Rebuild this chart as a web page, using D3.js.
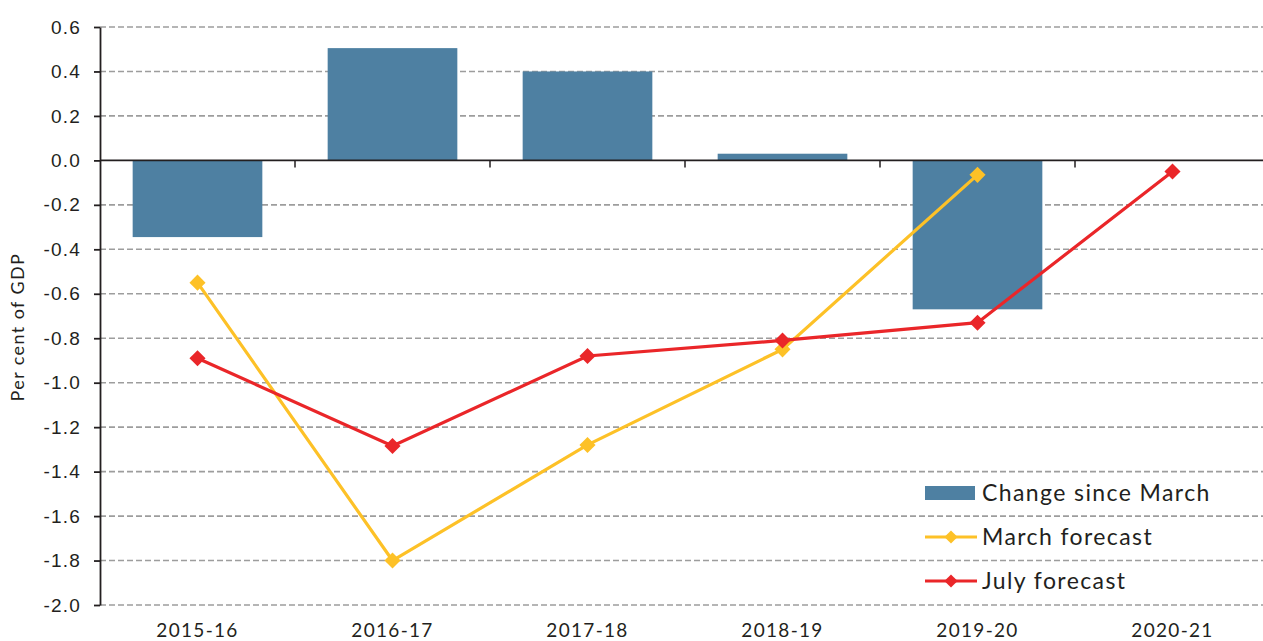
<!DOCTYPE html>
<html>
<head>
<meta charset="utf-8">
<script src="https://cdn.jsdelivr.net/npm/d3@7"></script>
<style>
  body { margin: 0; background: #fff; }
  svg { display: block; font-family: 'Lato', 'Open Sans', sans-serif; }
  .tick text { fill: #231f20; }
</style>
</head>
<body>
<div id="chart"></div>
<script>
const years = ['2015-16', '2016-17', '2017-18', '2018-19', '2019-20', '2020-21'];
const changeSinceMarch = [-0.345, 0.505, 0.4, 0.03, -0.67, null];
const marchForecast = [-0.55, -1.8, -1.28, -0.85, -0.065, null];
const julyForecast = [-0.89, -1.285, -0.88, -0.81, -0.73, -0.05];
const yTicks = [0.6, 0.4, 0.2, 0.0, -0.2, -0.4, -0.6, -0.8, -1.0, -1.2, -1.4, -1.6, -1.8, -2.0];

const width = 1263;
const height = 641;
const margin = { top: 27, right: -7, bottom: 36, left: 100 };

const svg = d3.select('#chart')
  .append('svg')
  .attr('width', width)
  .attr('height', height);

const xScale = d3.scaleBand()
  .domain(years)
  .range([margin.left, width - margin.right])
  .paddingInner(0.335)
  .paddingOuter(0.1675);

const yScale = d3.scaleLinear()
  .domain([-2.0, 0.6])
  .range([height - margin.bottom, margin.top]);

// gridlines
svg.append('g')
  .selectAll('line')
  .data(yTicks.filter(d => d !== 0))
  .join('line')
  .attr('x1', margin.left)
  .attr('x2', width)
  .attr('y1', d => yScale(d))
  .attr('y2', d => yScale(d))
  .attr('stroke', '#9d9d9d')
  .attr('stroke-width', 1.6)
  .attr('stroke-dasharray', '6,3');

// bars
svg.append('g')
  .selectAll('rect')
  .data(years.map((y, i) => ({ year: y, v: changeSinceMarch[i] })).filter(d => d.v !== null))
  .join('rect')
  .attr('x', d => xScale(d.year))
  .attr('width', xScale.bandwidth())
  .attr('y', d => yScale(Math.max(0, d.v)))
  .attr('height', d => Math.abs(yScale(d.v) - yScale(0)))
  .attr('fill', '#4e80a2');

// zero line with category ticks
const step = xScale.step();
const boundaries = d3.range(1, years.length).map(i => margin.left + i * step);
const zero = svg.append('g');
zero.append('line')
  .attr('x1', margin.left).attr('x2', width)
  .attr('y1', yScale(0)).attr('y2', yScale(0))
  .attr('stroke', '#231f20').attr('stroke-width', 1.8);
zero.selectAll('.bt')
  .data(boundaries)
  .join('line')
  .attr('class', 'bt')
  .attr('x1', d => d).attr('x2', d => d)
  .attr('y1', yScale(0)).attr('y2', yScale(0) + 7)
  .attr('stroke', '#231f20').attr('stroke-width', 1.5);

// y axis
const yAxis = svg.append('g')
  .attr('transform', `translate(${margin.left},0)`)
  .call(d3.axisLeft(yScale).tickValues(yTicks).tickFormat(d3.format('.1f')).tickSize(6).tickSizeOuter(0));
yAxis.selectAll('path, line').attr('stroke', '#231f20').attr('stroke-width', 1.8);
yAxis.selectAll('text')
  .attr('font-size', 19)
  .attr('letter-spacing', 1.2)
  .attr('x', -19)
  .text(d => d3.format('.1f')(d).replace('−', '-'));

// x labels
svg.append('g')
  .selectAll('text')
  .data(years)
  .join('text')
  .attr('x', d => xScale(d) + xScale.bandwidth() / 2)
  .attr('y', height - 4)
  .attr('text-anchor', 'middle')
  .attr('font-size', 19)
  .attr('letter-spacing', 1.3)
  .attr('fill', '#231f20')
  .text(d => d);

// y title
svg.append('text')
  .attr('transform', `translate(24, ${yScale(-0.75)}) rotate(-90)`)
  .attr('text-anchor', 'middle')
  .attr('font-size', 18)
  .attr('letter-spacing', 1.4)
  .attr('fill', '#231f20')
  .text('Per cent of GDP');

// lines
function drawSeries(values, color) {
  const pts = years.map((y, i) => ({ year: y, v: values[i] })).filter(d => d.v !== null);
  const line = d3.line()
    .x(d => xScale(d.year) + xScale.bandwidth() / 2)
    .y(d => yScale(d.v));
  svg.append('path')
    .datum(pts)
    .attr('d', line)
    .attr('fill', 'none')
    .attr('stroke', color)
    .attr('stroke-width', 3.2);
  svg.append('g')
    .selectAll('path')
    .data(pts)
    .join('path')
    .attr('d', d3.symbol(d3.symbolDiamond2, 165))
    .attr('transform', d => `translate(${xScale(d.year) + xScale.bandwidth() / 2},${yScale(d.v)})`)
    .attr('fill', color);
}
drawSeries(marchForecast, '#fdc127');
drawSeries(julyForecast, '#ea2629');

// legend
const legend = svg.append('g').attr('transform', 'translate(925, 493)');
const items = [
  { label: 'Change since March', type: 'bar', color: '#4e80a2' },
  { label: 'March forecast', type: 'line', color: '#fdc127' },
  { label: 'July forecast', type: 'line', color: '#ea2629' }
];
const row = legend.selectAll('g')
  .data(items)
  .join('g')
  .attr('transform', (d, i) => `translate(0, ${i * 44})`);
row.filter(d => d.type === 'bar')
  .append('rect')
  .attr('x', 0).attr('y', -7).attr('width', 50).attr('height', 14)
  .attr('fill', d => d.color);
row.filter(d => d.type === 'line')
  .append('line')
  .attr('x1', 0).attr('x2', 52).attr('y1', 0).attr('y2', 0)
  .attr('stroke', d => d.color).attr('stroke-width', 3.2);
row.filter(d => d.type === 'line')
  .append('path')
  .attr('d', d3.symbol(d3.symbolDiamond2, 110))
  .attr('transform', 'translate(26,0)')
  .attr('fill', d => d.color);
row.append('text')
  .attr('x', 57)
  .attr('y', 0)
  .attr('dy', '0.35em')
  .attr('font-size', 23)
  .attr('letter-spacing', 1.4)
  .attr('fill', '#231f20')
  .text(d => d.label);
</script>
</body>
</html>
